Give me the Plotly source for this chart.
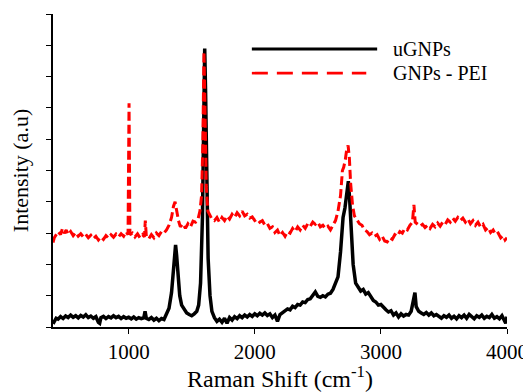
import plotly.graph_objects as go

# uGNPs spectrum (wavenumber, intensity a.u.)
ugnps_x = [400,410,425,440,460,480,500,520,540,560,580,600,620,640,660,680,700,720,740,760,770,780,
           800,820,840,860,880,900,920,940,960,980,1000,1020,1040,1060,1080,1100,1120,1130,1140,1160,
           1180,1200,1220,1240,1260,1280,1300,1320,1340,1355,1365,1372,1380,1390,1405,1420,1440,1460,
           1480,1500,1520,1540,1555,1570,1585,1595,1603,1610,1620,1630,1645,1660,1680,1700,1720,1740,
           1760,1780,1800,1820,1840,1860,1880,1900,1920,1940,1960,1980,2000,2020,2040,2060,2080,2100,
           2120,2140,2160,2180,2200,2220,2240,2260,2280,2300,2320,2340,2360,2380,2400,2420,2440,2460,
           2480,2500,2520,2540,2560,2580,2600,2620,2640,2660,2680,2700,2715,2730,2742,2752,2765,2780,
           2800,2820,2840,2860,2880,2900,2920,2940,2960,2980,3000,3020,3040,3060,3080,3100,3120,3140,
           3160,3180,3200,3220,3240,3260,3270,3280,3300,3320,3340,3360,3380,3400,3420,3440,3460,3480,
           3500,3520,3540,3560,3580,3600,3620,3640,3660,3680,3700,3720,3740,3760,3780,3800,3820,3840,
           3860,3880,3900,3920,3940,3960,3980,3990,4000]
ugnps_y = [0.10,0.20,0.28,0.25,0.33,0.27,0.35,0.30,0.38,0.31,0.36,0.29,0.37,0.32,0.39,0.30,0.35,0.28,0.33,0.15,0.12,0.30,
           0.34,0.27,0.33,0.29,0.36,0.30,0.34,0.27,0.33,0.28,0.31,0.26,0.32,0.25,0.30,0.27,0.29,0.50,0.28,0.24,
           0.30,0.22,0.28,0.20,0.27,0.24,0.40,0.60,1.10,1.90,2.45,2.62,2.30,1.60,1.00,0.70,0.55,0.45,
           0.40,0.36,0.42,0.50,0.70,1.40,3.50,6.50,8.90,7.50,4.50,2.20,1.00,0.50,0.30,0.18,0.25,0.15,
           0.28,0.12,0.30,0.22,0.33,0.27,0.36,0.30,0.38,0.32,0.40,0.34,0.42,0.36,0.44,0.38,0.45,0.37,
           0.42,0.30,0.38,0.18,0.40,0.45,0.50,0.58,0.55,0.66,0.62,0.72,0.70,0.80,0.78,0.88,0.90,1.00,
           1.12,0.98,0.95,1.00,0.96,1.05,1.08,1.20,1.40,1.60,2.40,3.50,3.80,4.40,4.66,4.10,3.00,2.00,
           1.40,1.25,1.15,1.20,1.05,1.10,0.95,0.85,0.80,0.70,0.72,0.62,0.55,0.48,0.52,0.38,0.45,0.32,
           0.42,0.35,0.40,0.38,0.50,0.90,1.10,0.65,0.50,0.45,0.40,0.46,0.38,0.45,0.36,0.40,0.33,0.28,
           0.36,0.31,0.38,0.28,0.34,0.26,0.36,0.30,0.38,0.28,0.40,0.33,0.26,0.36,0.31,0.38,0.28,0.34,
           0.30,0.40,0.28,0.33,0.26,0.36,0.23,0.12,0.33]

# GNPs - PEI spectrum
pei_x = [400,410,425,440,460,475,490,505,520,540,560,580,600,620,640,660,680,700,720,740,760,780,
         800,820,840,860,880,900,920,940,960,980,995,1003,1010,1030,1050,1070,1090,1110,1125,1132,
         1140,1160,1180,1200,1220,1240,1260,1280,1300,1320,1340,1355,1368,1380,1395,1410,1430,1450,
         1470,1490,1510,1530,1550,1565,1578,1588,1597,1605,1615,1628,1645,1660,1680,1700,1720,1740,
         1760,1780,1800,1820,1840,1860,1880,1900,1920,1940,1960,1980,2000,2020,2040,2060,2080,2100,
         2120,2140,2160,2180,2200,2220,2240,2260,2280,2300,2320,2340,2360,2380,2400,2420,2440,2460,
         2480,2500,2520,2540,2560,2580,2600,2620,2640,2660,2680,2695,2705,2718,2730,2740,2750,2760,
         2775,2790,2810,2830,2850,2870,2890,2910,2930,2950,2970,2990,3010,3030,3050,3070,3090,3110,
         3130,3150,3170,3190,3210,3230,3250,3262,3272,3290,3310,3330,3350,3370,3390,3410,3430,3450,
         3470,3490,3510,3530,3550,3570,3590,3610,3630,3650,3670,3690,3710,3730,3750,3770,3790,3810,
         3830,3850,3870,3890,3910,3930,3950,3970,3985,4000]
pei_y = [2.70,2.85,2.95,3.05,2.95,3.15,3.00,3.10,2.95,3.05,2.92,3.02,2.90,2.98,2.88,2.96,2.85,2.93,2.82,2.90,2.78,2.88,
         2.80,2.92,2.84,2.95,2.87,2.97,2.88,2.98,2.90,3.05,2.95,7.15,2.95,3.00,2.88,2.98,2.85,2.95,2.88,3.40,
         2.90,2.82,2.95,2.85,3.00,2.92,3.05,3.00,3.10,3.25,3.50,3.85,4.00,3.70,3.40,3.20,3.30,3.15,
         3.30,3.20,3.38,3.35,3.45,3.70,4.20,5.80,8.80,7.00,4.50,3.70,3.55,3.45,3.40,3.50,3.35,3.50,
         3.40,3.55,3.45,3.60,3.50,3.65,3.55,3.70,3.55,3.60,3.48,3.52,3.40,3.45,3.35,3.40,3.25,3.30,
         3.15,3.20,3.02,3.10,2.92,3.02,2.90,3.05,3.00,3.15,3.05,3.20,3.10,3.25,3.15,3.30,3.22,3.35,
         3.28,3.35,3.20,3.25,3.15,3.22,3.10,3.25,3.40,3.70,4.20,5.00,5.10,5.35,5.70,5.80,5.40,4.60,
         3.90,3.55,3.40,3.30,3.25,3.10,3.05,2.95,3.00,2.90,2.95,2.80,2.90,2.75,2.72,2.85,2.80,2.95,
         2.90,3.05,3.00,3.15,3.10,3.25,3.35,3.90,3.35,3.30,3.22,3.28,3.18,3.25,3.15,3.28,3.20,3.32,
         3.22,3.35,3.28,3.42,3.35,3.48,3.38,3.50,3.40,3.48,3.35,3.45,3.30,3.40,3.25,3.35,3.20,3.28,
         3.10,3.18,3.02,3.10,2.95,3.00,2.85,2.92,2.78,2.85]

SERIF = "Liberation Serif"

fig = go.Figure()
fig.add_trace(go.Scatter(x=ugnps_x, y=ugnps_y, mode="lines", name="uGNPs",
                         line=dict(color="black", width=3.5), showlegend=False))
fig.add_trace(go.Scatter(x=pei_x, y=pei_y, mode="lines", name="GNPs - PEI",
                         line=dict(color="#ff0000", width=3, dash="9px,4px"), showlegend=False))

# manual legend (long line samples as in reference)
fig.add_shape(type="line", xref="paper", yref="paper", x0=0.438, x1=0.714, y0=0.888, y1=0.888,
              line=dict(color="black", width=3))
fig.add_shape(type="line", xref="paper", yref="paper", x0=0.438, x1=0.69, y0=0.811, y1=0.811,
              line=dict(color="#ff0000", width=2.6, dash="16px,9px"))
fig.add_annotation(xref="paper", yref="paper", x=0.745, y=0.888, text="uGNPs", showarrow=False,
                   xanchor="left", yanchor="middle", font=dict(family=SERIF, size=20, color="black"))
fig.add_annotation(xref="paper", yref="paper", x=0.745, y=0.811, text="GNPs - PEI", showarrow=False,
                   xanchor="left", yanchor="middle", font=dict(family=SERIF, size=20, color="black"))

fig.update_layout(
    width=523, height=384,
    margin=dict(l=45, r=24, t=6, b=65),
    paper_bgcolor="white", plot_bgcolor="white",
    xaxis=dict(range=[400, 4000], tickvals=[1000, 2000, 3000, 4000], ticks="outside", ticklen=5,
               tickwidth=1, tickcolor="black", showline=True, linecolor="black", linewidth=1.5,
               showgrid=False, zeroline=False, tickfont=dict(family=SERIF, size=21, color="black"),
               automargin=False,
               title=dict(text="Raman Shift (cm<sup>-1</sup>)",
                          font=dict(family=SERIF, size=24, color="black"), standoff=5)),
    yaxis=dict(range=[0, 10], dtick=1, ticks="outside", ticklen=5, tickwidth=1, tickcolor="black",
               showticklabels=False, showline=True, linecolor="black", linewidth=1.5,
               showgrid=False, zeroline=False, automargin=False,
               title=dict(text="Intensity (a.u)", font=dict(family=SERIF, size=22, color="black"),
                          standoff=13)),
)

fig.write_html("out.html")
